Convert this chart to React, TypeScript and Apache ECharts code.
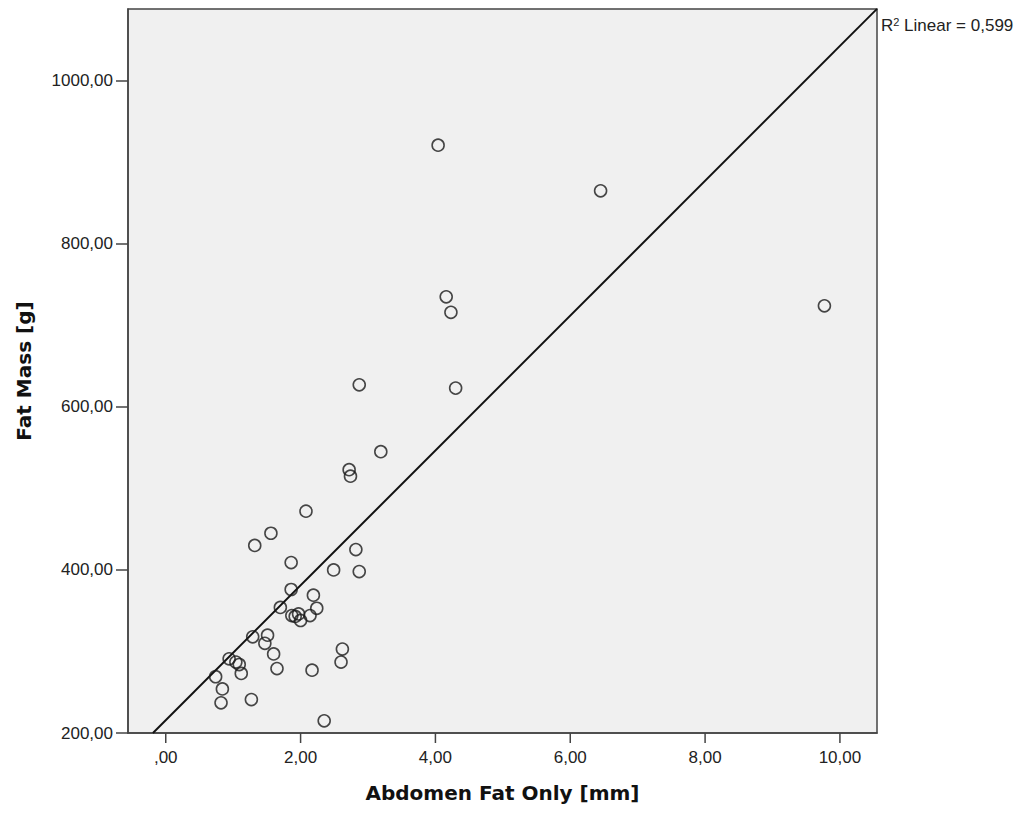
import React, { useEffect, useRef } from "react";
import * as echarts from "echarts";

// Abdomen Fat Only [mm]
const abdomenFat: number[] = [
  4.04, 6.45, 4.16, 4.23, 9.77, 2.87, 4.30, 3.19, 2.72, 2.74,
  2.08, 1.56, 1.32, 2.82, 1.86, 2.49, 2.87, 1.86, 2.19, 2.24,
  1.70, 1.87, 1.92, 1.97, 2.00, 2.14, 1.29, 1.51, 1.47, 1.60,
  2.62, 2.60, 0.94, 1.04, 1.09, 1.12, 1.65, 2.17, 0.74, 0.84,
  0.82, 1.27, 2.35,
];
// Fat Mass [g]
const fatMass: number[] = [
  921, 865, 735, 716, 724, 627, 623, 545, 523, 515,
  472, 445, 430, 425, 409, 400, 398, 376, 369, 353,
  354, 344, 343, 346, 338, 344, 318, 320, 310, 297,
  303, 287, 291, 287, 284, 273, 279, 277, 269, 254,
  237, 241, 215,
];

const xTicks: number[] = [0, 2, 4, 6, 8, 10];
const yTicks: number[] = [200, 400, 600, 800, 1000];
const X_MIN = -0.56;
const X_MAX = 10.55;
const Y_MIN = 200;
const Y_MAX = 1088;

// linear fit
const FIT_INTERCEPT = 215.7;
const FIT_SLOPE = 82.7;
const R2_TEXT = "0,599";

const fmt = (v: number): string => {
  let s = v.toFixed(2).replace(".", ",");
  if (s.startsWith("0,")) s = s.slice(1);
  return s;
};

export default function App() {
  const ref = useRef<HTMLDivElement>(null);
  useEffect(() => {
    document.body.style.margin = "0";
    if (!ref.current) return;
    const chart = echarts.init(ref.current, undefined, { renderer: "svg" });
    const points = abdomenFat.map((x, i) => [x, fatMass[i]]);
    const xStart = (Y_MIN - FIT_INTERCEPT) / FIT_SLOPE;
    const fitLine = [
      [xStart, FIT_INTERCEPT + FIT_SLOPE * xStart],
      [X_MAX, FIT_INTERCEPT + FIT_SLOPE * X_MAX],
    ];
    const labelFont = "'Liberation Sans', Arial, sans-serif";
    const axisColor = "#444444";
    chart.setOption({
      animation: false,
      backgroundColor: "#ffffff",
      grid: {
        left: 128,
        right: 152,
        top: 9,
        bottom: 83,
        show: true,
        backgroundColor: "#f0f0f0",
        borderColor: axisColor,
        borderWidth: 1.5,
        containLabel: false,
        outerBoundsMode: "none",
      },
      xAxis: {
        type: "value",
        position: "bottom",
        min: X_MIN,
        max: X_MAX,
        name: "Abdomen Fat Only [mm]",
        nameLocation: "middle",
        nameGap: 50,
        nameTextStyle: {
          fontFamily: "'DejaVu Sans', sans-serif",
          fontWeight: "bold",
          fontSize: 20,
          color: "#111",
        },
        axisLine: { show: true, onZero: false, lineStyle: { color: axisColor, width: 1.5 } },
        splitLine: { show: false },
        axisTick: { show: false },
        axisLabel: {
          customValues: xTicks,
          formatter: (v: number) => fmt(v),
          fontFamily: labelFont,
          fontSize: 17,
          color: "#222",
          margin: 16,
        },
      },
      yAxis: {
        type: "value",
        position: "left",
        min: Y_MIN,
        max: Y_MAX,
        name: "Fat Mass [g]",
        nameLocation: "middle",
        nameGap: 94,
        nameTextStyle: {
          fontFamily: "'DejaVu Sans', sans-serif",
          fontWeight: "bold",
          fontSize: 20,
          color: "#111",
        },
        axisLine: { show: true, onZero: false, lineStyle: { color: axisColor, width: 1.5 } },
        splitLine: { show: false },
        axisTick: {
          show: true,
          inside: false,
          length: 12,
          customValues: yTicks,
          lineStyle: { color: axisColor, width: 1.5 },
        },
        axisLabel: {
          customValues: yTicks,
          formatter: (v: number) => fmt(v),
          fontFamily: labelFont,
          fontSize: 17,
          color: "#222",
          margin: 15,
        },
      },
      series: [
        {
          type: "custom",
          data: xTicks.map((v) => [v, Y_MIN]),
          clip: false,
          silent: true,
          z: 1,
          renderItem: (params: any, api: any) => {
            const p = api.coord([api.value(0), api.value(1)]);
            return {
              type: "line",
              shape: { x1: p[0], y1: p[1], x2: p[0], y2: p[1] + 10 },
              style: { stroke: axisColor, lineWidth: 1.5 },
            };
          },
        },
        {
          type: "line",
          data: fitLine,
          symbol: "none",
          clip: true,
          lineStyle: { color: "#111", width: 2 },
          silent: true,
          z: 2,
        },
        {
          type: "scatter",
          data: points,
          symbol: "circle",
          symbolSize: 12,
          itemStyle: {
            color: "rgba(0,0,0,0)",
            borderColor: "#1a1a1a",
            borderWidth: 1.6,
          },
          z: 3,
        },
      ],
      graphic: [
        {
          type: "text",
          left: 881,
          top: 16,
          style: {
            text: "R{sup|2} Linear = " + R2_TEXT,
            fontFamily: labelFont,
            fontSize: 17,
            fill: "#222",
            rich: {
              sup: {
                fontSize: 11,
                verticalAlign: "top",
                padding: [0, 0, 8, 0],
                fontFamily: labelFont,
                fill: "#222",
              },
            },
          },
        },
      ],
    });
    return () => chart.dispose();
  }, []);
  return <div ref={ref} style={{ width: 1029, height: 816 }} />;
}
